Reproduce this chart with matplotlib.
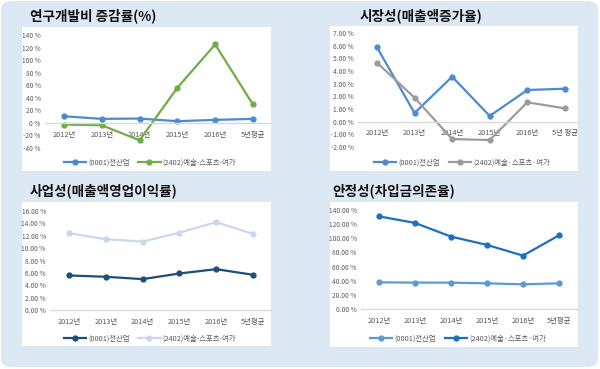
import matplotlib
matplotlib.use("Agg")
import matplotlib.pyplot as plt
from matplotlib.patches import FancyBboxPatch, Rectangle
from matplotlib.ticker import FuncFormatter

plt.rcParams['font.family'] = ['Noto Sans CJK KR', 'DejaVu Sans']

W, H = 600, 369

# --- data ---
years = ['2012년', '2013년', '2014년', '2015년', '2016년', '5년평균']
years_sp = ['2012년', '2013년', '2014년', '2015년', '2016년', '5년 평균']

rnd_all = [10.6, 6.4, 6.9, 2.7, 4.8, 6.4]
rnd_art = [-2.7, -3.7, -27.7, 55.9, 125.0, 29.3]

growth_all = [5.87, 0.68, 3.55, 0.45, 2.50, 2.60]
growth_art = [4.66, 1.89, -1.37, -1.45, 1.53, 1.05]

margin_all = [5.58, 5.37, 4.99, 5.90, 6.60, 5.69]
margin_art = [12.40, 11.44, 11.06, 12.50, 14.20, 12.30]

debt_all = [37.7, 37.3, 37.3, 36.3, 34.9, 36.3]
debt_art = [131.0, 121.7, 102.4, 90.6, 75.5, 104.2]

name_all = '(0001)전산업'
name_art_dash = '(2402)예술-스포츠-여가'
name_art_dot = '(2402)예술·스포츠·여가'


def fx(px):
    return px / W


def fy(py):
    return 1 - py / H


fig = plt.figure(figsize=(6, 3.69), dpi=100)

# background panel
fig.patches.append(FancyBboxPatch((fx(1), fy(367)), fx(597), 366 / H,
                                  boxstyle="round,pad=0,rounding_size=0.02",
                                  transform=fig.transFigure, facecolor='#dde8f5',
                                  edgecolor='none', zorder=0))

# white chart boxes (left, top, right, bottom) in px
boxes = [(22, 27, 271, 171), (330, 26, 578, 171), (22, 202, 271, 346), (330, 202, 578, 347)]
for l, t, r, b in boxes:
    fig.patches.append(Rectangle((fx(l), fy(b)), fx(r - l), (b - t) / H,
                                 transform=fig.transFigure, facecolor='white',
                                 edgecolor='none', zorder=1))


def pct_fmt(dec):
    def f(v, pos):
        return f"{v:.{dec}f} %"
    return FuncFormatter(f)


def draw(box, xlim, ylim, yticks, dec, s1, s2, c1, c2, labels, leg_names, leg_xy, title, title_xy):
    l, t, r, b = box
    ax = fig.add_axes([fx(l), fy(b), fx(r - l), (b - t) / H])
    ax.set_zorder(2)
    ax.patch.set_visible(False)
    x = range(len(labels))
    ax.plot(x, s1, color=c1, lw=1.6, marker='o', ms=3.5, label=leg_names[0])
    ax.plot(x, s2, color=c2, lw=1.6, marker='o', ms=3.5, label=leg_names[1])
    ax.set_xlim(*xlim)
    ax.set_ylim(*ylim)
    ax.set_yticks(yticks)
    ax.yaxis.set_major_formatter(pct_fmt(dec))
    ax.set_xticks(list(x))
    ax.set_xticklabels(labels)
    for sp in ['top', 'right', 'left']:
        ax.spines[sp].set_visible(False)
    ax.spines['bottom'].set_position(('data', 0))
    ax.spines['bottom'].set_color('#d9d9d9')
    ax.spines['bottom'].set_linewidth(1.0)
    ax.tick_params(axis='y', length=0, labelsize=4.8, colors='#595959', pad=3)
    ax.tick_params(axis='x', length=0, labelsize=5.3, colors='#595959', pad=5.5)
    ax.legend(loc='center', bbox_to_anchor=(fx(leg_xy[0]), fy(leg_xy[1])),
              bbox_transform=fig.transFigure, ncol=2, frameon=False,
              fontsize=5.3, handlelength=3.0, columnspacing=1.2,
              labelcolor='#595959', handletextpad=0.3)
    fig.text(fx(title_xy[0]), fy(title_xy[1]), title, fontsize=9.8, fontweight='bold',
             va='center', ha='left', color='#111111')
    return ax


draw((45, 35, 270, 148), (-0.5, 5.45), (-40, 140), range(-40, 141, 20), 0,
     rnd_all, rnd_art, '#4a8bd1', '#70ad47', years,
     [name_all, name_art_dash], (150, 163), '연구개발비 증감률(%)', (30, 16))

draw((358, 33, 578, 147), (-0.505, 5.35), (-2, 7), range(-2, 8), 2,
     growth_all, growth_art, '#4a8bd1', '#9c9c9c', years_sp,
     [name_all, name_art_dot], (462, 163), '시장성(매출액증가율)', (360, 16))

draw((50, 211, 271, 310), (-0.52, 5.49), (0, 16), range(0, 17, 2), 2,
     margin_all, margin_art, '#1f4e79', '#cad8ee', years,
     [name_all, name_art_dash], (150, 339), '사업성(매출액영업이익률)', (30, 191))

draw((361, 210, 577, 309), (-0.5, 5.5), (0, 140), range(0, 141, 20), 2,
     debt_all, debt_art, '#5b9bd5', '#1f6fbf', years,
     [name_all, name_art_dot], (458, 339), '안정성(차입금의존율)', (332, 191))

fig.savefig('out.png', dpi=100, facecolor='white')
